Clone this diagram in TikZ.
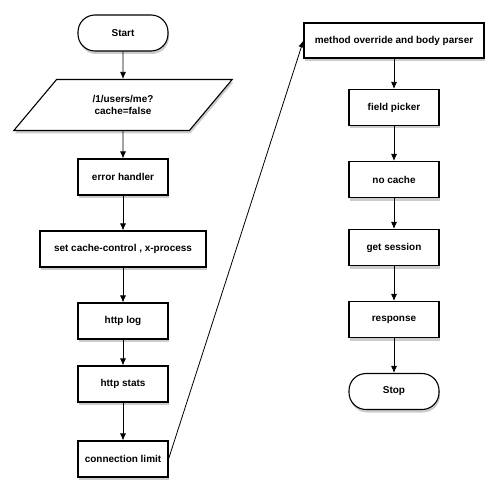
\documentclass[tikz,border=0pt]{standalone}
\usepackage{fontspec}
\setmainfont{Liberation Sans}
\usepackage{tikz}
\usetikzlibrary{positioning, arrows, arrows.meta, shapes, shadows}
\usetikzlibrary{shapes.geometric,arrows}
\tikzstyle{arrow} = [->,>={Latex[length=7bp,width=6bp]}, line width=0.8bp]
\tikzstyle{box} = [draw=black, line width=1.1bp, fill=white, text centered, minimum height=36bp, font=\bfseries\fontsize{10}{12}\selectfont, drop shadow={shadow xshift=1bp, shadow yshift=-3bp, opacity=0.4}]
\tikzstyle{terminal} = [box, rectangle, rounded corners=17bp, minimum width=90bp]
\tikzstyle{process} = [box, rectangle, minimum width=90bp]
\tikzstyle{io} = [box, trapezium, trapezium left angle=50, trapezium right angle=130, minimum width=207bp, minimum height=51bp, align=center]

\begin{document}
\begin{tikzpicture}[x=1bp, y=1bp, node distance=72bp]
        \useasboundingbox (0,0) rectangle (504,-501);
        \node (start) [terminal] at (123,-33) {Start};
        \node (request) [io, below of=start] {/1/users/me?\\cache=false};
        \node (errors) [process, below of=request] {error handler};
        \node (headers) [process, below of=errors, minimum width=166bp] {set cache-control , x-process};
        \node (httplog) [process, below of=headers] {http log};
        \node (httpstats) [process, below of=httplog, yshift=9bp] {http stats};
        \node (connlimit) [process, below of=httpstats, yshift=-3bp] {connection limit};
        \node (override) [process, minimum width=180bp, minimum height=35bp] at (394,-40.5) {method override and body parser};
        \node (picker) [process, below of=override, yshift=5bp] {field picker};
        \node (nocache) [process, below of=picker] {no cache};
        \node (session) [process, below of=nocache, yshift=4bp] {get session};
        \node (response) [process, below of=session] {response};
        \node (stop) [terminal, below of=response] {Stop};

        \draw [arrow] (start) -- (request);
        \draw [arrow] (request) -- (errors);
        \draw [arrow] (errors) -- (headers);
        \draw [arrow] (headers) -- (httplog);
        \draw [arrow] (httplog) -- (httpstats);
        \draw [arrow] (httpstats) -- (connlimit);
        \draw [arrow] (connlimit.east) -- (override.west);
        \draw [arrow] (override) -- (picker);
        \draw [arrow] (picker) -- (nocache);
        \draw [arrow] (nocache) -- (session);
        \draw [arrow] (session) -- (response);
        \draw [arrow] (response) -- (stop);
\end{tikzpicture}
\end{document}
